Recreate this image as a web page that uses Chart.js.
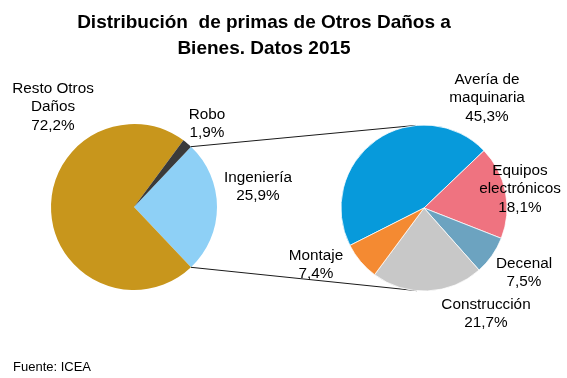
<!DOCTYPE html>
<html>
<head>
<meta charset="utf-8">
<script src="https://cdn.jsdelivr.net/npm/chart.js@4.4.1/dist/chart.umd.min.js"></script>
<style>
  html, body { margin: 0; padding: 0; background: #fff; }
  #wrap { position: relative; width: 567px; height: 378px; overflow: hidden; font-family: "Liberation Sans", Arial, sans-serif; }
  #wrap canvas { position: absolute; left: 0; top: 0; }
  #title { position: absolute; left: 0; width: 528px; top: 9px; text-align: center; font-weight: bold; font-size: 19px; line-height: 26px; color: #000; white-space: pre; }
  #source { position: absolute; left: 13px; top: 359px; font-size: 13px; color: #000; }
</style>
</head>
<body>
<div id="wrap">
  <canvas id="c1" width="567" height="378"></canvas>
  <canvas id="c2" width="567" height="378"></canvas>
  <div id="title">Distribución  de primas de Otros Daños a
Bienes. Datos 2015</div>
  <div id="source">Fuente: ICEA</div>
</div>
<script>
// ---- data ----
const mainLabels = [["Ingeniería"], ["Resto Otros", "Daños"], ["Robo"]];
const mainValues = [25.9, 72.2, 1.9];
const mainColors = ["#8ED0F6", "#C8961C", "#3A3A3A"];

const subLabels = [["Avería de", "maquinaria"], ["Equipos", "electrónicos"], ["Decenal"], ["Construcción"], ["Montaje"]];
const subValues = [45.3, 18.1, 7.5, 21.7, 7.4];
const subColors = ["#079ADB", "#EF7380", "#6CA3C0", "#C8C8C8", "#F48A32"];

// label block offsets from pie center (layout only)
const mainLabelOffsets = [[124, -20], [-81, -100], [73, -83]];
const subLabelOffsets = [[63, -110], [96, -19], [100, 65], [62, 106], [-108, 57]];

const FONT = '15.3px "Liberation Sans", Arial, sans-serif';
const LINE_H = 18.5;

function fmt(v) { return v.toFixed(1).replace('.', ',') + '%'; }

function labelPlugin(labels, values, offsets) {
  return {
    id: 'pieLabels',
    afterDatasetsDraw(chart) {
      const ctx = chart.ctx;
      const arc = chart.getDatasetMeta(0).data[0];
      const cx = arc.x, cy = arc.y;
      ctx.save();
      ctx.font = FONT;
      ctx.fillStyle = '#000';
      ctx.textAlign = 'center';
      ctx.textBaseline = 'middle';
      labels.forEach((lines, i) => {
        const all = lines.concat([fmt(values[i])]);
        const bx = cx + offsets[i][0];
        const by = cy + offsets[i][1] - (all.length - 1) * LINE_H / 2;
        all.forEach((t, j) => ctx.fillText(t, bx, by + j * LINE_H));
      });
      ctx.restore();
    }
  };
}

const mainRotation = 90 - mainValues[0] * 3.6 / 2;

const chart1 = new Chart(document.getElementById('c1'), {
  type: 'pie',
  data: {
    labels: mainLabels.map(l => l.join(' ')),
    datasets: [{ data: mainValues, backgroundColor: mainColors, borderWidth: 0 }]
  },
  options: {
    responsive: false,
    animation: false,
    rotation: mainRotation,
    radius: 83,
    layout: { padding: { left: 0, right: 299, top: 124, bottom: 88 } },
    plugins: { legend: { display: false }, tooltip: { enabled: false }, title: { display: false } }
  },
  plugins: [labelPlugin(mainLabels, mainValues, mainLabelOffsets)]
});

const connectorPlugin = {
  id: 'connectors',
  beforeDatasetsDraw(chart) {
    const ing = chart1.getDatasetMeta(0).data[0];
    const sub = chart.getDatasetMeta(0).data[0];
    const r1 = ing.outerRadius, r2 = sub.outerRadius;
    const p1 = [ing.x + r1 * Math.cos(ing.startAngle), ing.y + r1 * Math.sin(ing.startAngle)];
    const p2 = [ing.x + r1 * Math.cos(ing.endAngle), ing.y + r1 * Math.sin(ing.endAngle)];
    const aTop = -Math.PI / 2 - 0.1, aBot = Math.PI / 2 + 0.085;
    const q1 = [sub.x + r2 * Math.cos(aTop), sub.y + r2 * Math.sin(aTop)];
    const q2 = [sub.x + r2 * Math.cos(aBot), sub.y + r2 * Math.sin(aBot)];
    const ctx = chart.ctx;
    ctx.save();
    ctx.strokeStyle = '#1a1a1a';
    ctx.lineWidth = 1;
    ctx.beginPath();
    ctx.moveTo(p1[0], p1[1]); ctx.lineTo(q1[0], q1[1]);
    ctx.moveTo(p2[0], p2[1]); ctx.lineTo(q2[0], q2[1]);
    ctx.stroke();
    ctx.restore();
  }
};

const chart2 = new Chart(document.getElementById('c2'), {
  type: 'pie',
  data: {
    labels: subLabels.map(l => l.join(' ')),
    datasets: [{ data: subValues, backgroundColor: subColors, borderColor: '#ffffff', borderWidth: 0.75 }]
  },
  options: {
    responsive: false,
    animation: false,
    rotation: -116.8,
    radius: 83,
    layout: { padding: { left: 341, right: 60, top: 125, bottom: 87 } },
    plugins: { legend: { display: false }, tooltip: { enabled: false }, title: { display: false } }
  },
  plugins: [connectorPlugin, labelPlugin(subLabels, subValues, subLabelOffsets)]
});
</script>
</body>
</html>
